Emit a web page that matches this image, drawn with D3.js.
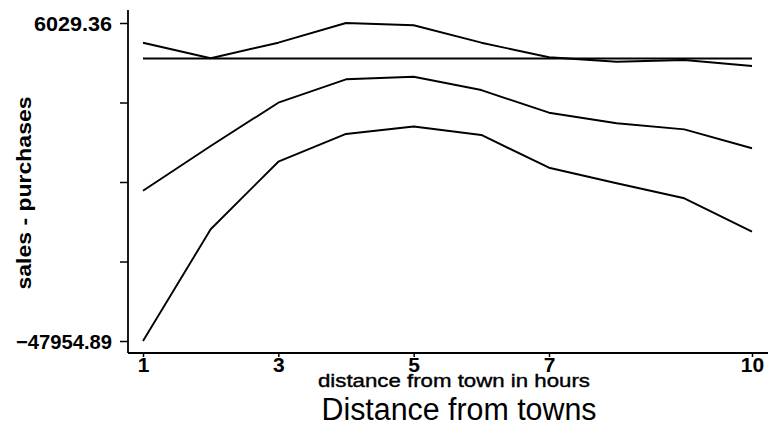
<!DOCTYPE html>
<html>
<head>
<meta charset="utf-8">
<script src="https://cdn.jsdelivr.net/npm/d3@7"></script>
<style>
  body { margin: 0; background: #fff; }
  text { font-family: "Liberation Sans", Arial, sans-serif; fill: #000; }
</style>
</head>
<body>
<div id="chart"></div>
<script>
// values
const distance = [1, 2, 3, 4, 5, 6, 7, 8, 9, 10];
const upperLine = [2685, 40, 2685, 6029.36, 5640, 2685, 210, -540, -250, -1270];
const middleLine = [-22440, -14850, -7500, -3530, -3090, -5350, -9200, -11000, -12020, -15240];
const lowerLine = [-47954.89, -28990, -17520, -12810, -11540, -12980, -18540, -21180, -23730, -29400];
const zeroLine = [0, 0, 0, 0, 0, 0, 0, 0, 0, 0];

const yMin = -47954.89, yMax = 6029.36;
const xTicks = [1, 3, 5, 7, 10];
const yTicks = d3.range(5).map(i => yMin + i * (yMax - yMin) / 4);

const width = 774, height = 433;

const svg = d3.select("#chart")
  .append("svg")
    .attr("width", width)
    .attr("height", height);

// scales
const x = d3.scaleLinear().domain([1, 10]).range([143, 752]);
const y = d3.scaleLinear().domain([yMin, yMax]).range([341, 23]);

// plot box edges
const box = {left: 128, right: 768, top: 10, bottom: 353};

// axis lines
svg.append("line")
  .attr("x1", box.left).attr("x2", box.left)
  .attr("y1", box.top).attr("y2", box.bottom)
  .attr("stroke", "#000").attr("stroke-width", 1.8);
svg.append("line")
  .attr("x1", box.left).attr("x2", box.right)
  .attr("y1", box.bottom).attr("y2", box.bottom)
  .attr("stroke", "#000").attr("stroke-width", 1.8);

// y axis ticks, only min and max labelled
const yAxis = svg.append("g")
  .attr("transform", "translate(" + box.left + ",0)")
  .call(d3.axisLeft(y)
    .tickValues(yTicks)
    .tickSize(8)
    .tickPadding(8)
    .tickFormat((d, i) => (i === 0 || i === yTicks.length - 1) ? d3.format(".2f")(d) : ""));
yAxis.select(".domain").remove();
yAxis.selectAll("line").attr("stroke-width", 1.5);
yAxis.selectAll("text")
  .attr("font-size", 20)
  .attr("font-weight", "bold")
  .attr("font-family", "Liberation Sans, Arial, sans-serif")
  .attr("dy", "0.36em")
  .each(function(d, i) {
    if (i === 0) d3.select(this).attr("textLength", 96).attr("lengthAdjust", "spacingAndGlyphs");
    if (i === yTicks.length - 1) d3.select(this).attr("textLength", 78).attr("lengthAdjust", "spacingAndGlyphs");
  });

// x axis ticks
const xAxis = svg.append("g")
  .attr("transform", "translate(0," + box.bottom + ")")
  .call(d3.axisBottom(x)
    .tickValues(xTicks)
    .tickSize(4)
    .tickPadding(0)
    .tickFormat(d3.format("d")));
xAxis.select(".domain").remove();
xAxis.selectAll("line").attr("stroke-width", 1.5);
xAxis.selectAll("text")
  .attr("font-size", 21)
  .attr("font-weight", "bold")
  .attr("font-family", "Liberation Sans, Arial, sans-serif")
  .attr("dy", "0.72em");

// lines
const line = d3.line()
  .x((d, i) => x(distance[i]))
  .y(d => y(d));

[zeroLine, upperLine, middleLine, lowerLine].forEach(function(series) {
  svg.append("path")
    .datum(series)
    .attr("fill", "none")
    .attr("stroke", "#000")
    .attr("stroke-width", 1.9)
    .attr("stroke-linejoin", "round")
    .attr("d", line);
});

// axis titles
svg.append("text")
  .attr("transform", "translate(31,193) rotate(-90)")
  .attr("text-anchor", "middle")
  .attr("font-size", 21)
  .attr("font-weight", "bold")
  .attr("textLength", 193)
  .attr("lengthAdjust", "spacingAndGlyphs")
  .text("sales - purchases");

svg.append("text")
  .attr("x", 454)
  .attr("y", 387)
  .attr("text-anchor", "middle")
  .attr("font-size", 19)
  .attr("textLength", 272)
  .attr("lengthAdjust", "spacingAndGlyphs")
  .attr("stroke", "#000")
  .attr("stroke-width", 0.4)
  .text("distance from town in hours");

// title
svg.append("text")
  .attr("x", 459)
  .attr("y", 420)
  .attr("text-anchor", "middle")
  .attr("font-size", 31)
  .attr("textLength", 275)
  .attr("lengthAdjust", "spacingAndGlyphs")
  .text("Distance from towns");
</script>
</body>
</html>
